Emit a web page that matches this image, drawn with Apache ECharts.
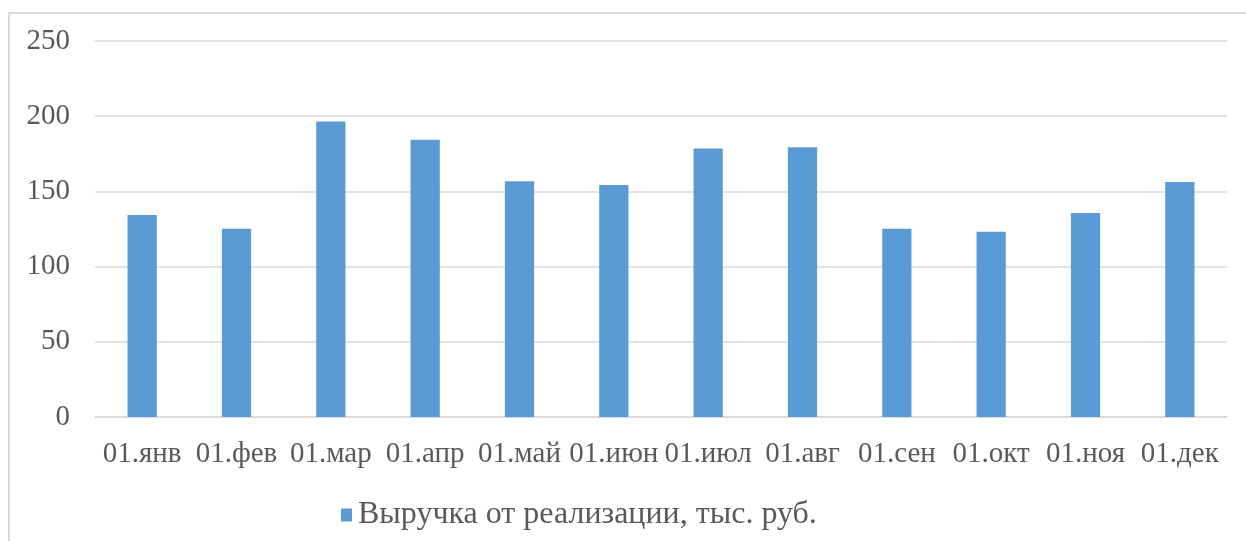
<!DOCTYPE html>
<html>
<head>
<meta charset="utf-8">
<script src="https://cdn.jsdelivr.net/npm/echarts@6/dist/echarts.min.js"></script>
<style>
  html, body { margin: 0; padding: 0; background: #fff; }
  #frame { position: absolute; left: 8px; top: 12px; width: 1300px; height: 600px;
           border-top: 2px solid #d9d9d9; border-left: 2px solid #d9d9d9; box-sizing: border-box; }
  #myChart { position: absolute; left: 0; top: 0; width: 1246px; height: 541px; }
</style>
</head>
<body>
<div id="frame"></div>
<div id="myChart"></div>
<script>
// месяцы и выручка
const months = ["01.янв", "01.фев", "01.мар", "01.апр", "01.май", "01.июн",
                "01.июл", "01.авг", "01.сен", "01.окт", "01.ноя", "01.дек"];
const revenue = [134.3, 125.1, 196.5, 184.4, 156.7, 154.2, 178.5, 179.3, 125.1, 123.1, 135.6, 156.3];
const seriesName = "Выручка от реализации, тыс. руб.";

const font = "'Liberation Serif', 'Times New Roman', serif";
let myChart = echarts.init(document.getElementById("myChart"));
myChart.setOption({
  animation: false,
  textStyle: { fontFamily: font },
  legend: {
    top: 494,
    left: 336,
    itemWidth: 11,
    itemHeight: 13,
    itemGap: 6,
    icon: "rect",
    textStyle: { fontFamily: font, fontSize: 32, color: "#595959", padding: [0, 0, 0, 1] },
    data: [seriesName],
  },
  grid: { left: 95, right: 19, top: 41, bottom: 124 },
  xAxis: {
    type: "category",
    data: months,
    axisTick: { show: false },
    axisLine: { lineStyle: { color: "#d9d9d9", width: 1.5 } },
    axisLabel: { fontFamily: font, fontSize: 29, color: "#595959", margin: 23, interval: 0 },
  },
  yAxis: {
    type: "value",
    min: 0,
    max: 250,
    interval: 50,
    axisLine: { show: false },
    axisTick: { show: false },
    splitLine: { lineStyle: { color: "#d9d9d9", width: 1.5 } },
    axisLabel: { fontFamily: font, fontSize: 29, color: "#595959", margin: 25 },
  },
  series: [
    {
      name: seriesName,
      type: "bar",
      data: revenue,
      barWidth: "31%",
      itemStyle: { color: "#5B9BD5" },
    },
  ],
});
</script>
</body>
</html>
